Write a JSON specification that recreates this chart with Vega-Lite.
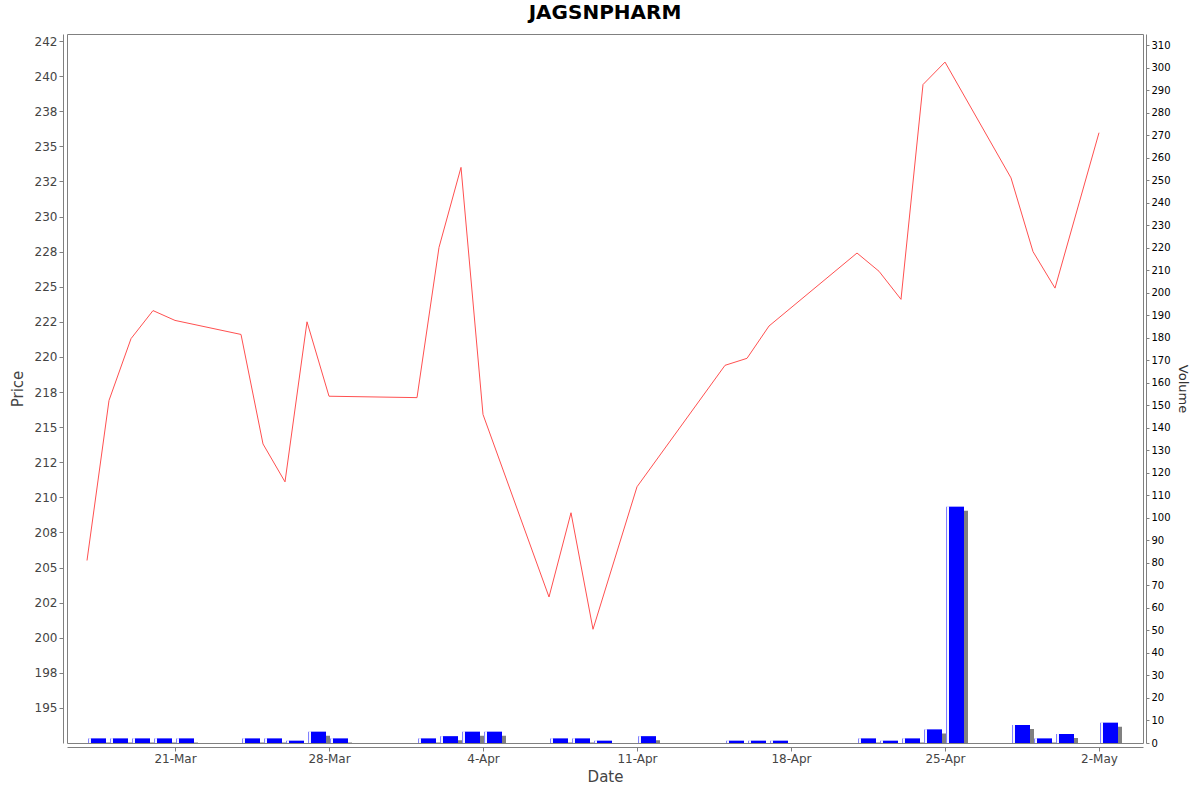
{
  "$schema": "https://vega.github.io/schema/vega-lite/v6.json",
  "autosize": "none",
  "width": 1076,
  "height": 709,
  "padding": {"left": 67, "top": 34, "right": 57, "bottom": 49},
  "background": "white",
  "title": {
    "text": "JAGSNPHARM",
    "fontSize": 20,
    "fontWeight": "bold",
    "color": "black",
    "anchor": "middle",
    "offset": 11
  },
  "data": {
    "values": [
      {"date": "2025-03-17", "price": 205.5, "volume": 2},
      {"date": "2025-03-18", "price": 216.9, "volume": 2},
      {"date": "2025-03-19", "price": 221.3, "volume": 2},
      {"date": "2025-03-20", "price": 223.3, "volume": 2},
      {"date": "2025-03-21", "price": 222.6, "volume": 2},
      {"date": "2025-03-24", "price": 221.6, "volume": 2},
      {"date": "2025-03-25", "price": 213.8, "volume": 2},
      {"date": "2025-03-26", "price": 211.1, "volume": 1},
      {"date": "2025-03-27", "price": 222.5, "volume": 5},
      {"date": "2025-03-28", "price": 217.2, "volume": 2},
      {"date": "2025-04-01", "price": 217.1, "volume": 2},
      {"date": "2025-04-02", "price": 227.8, "volume": 3},
      {"date": "2025-04-03", "price": 233.5, "volume": 5},
      {"date": "2025-04-04", "price": 215.9, "volume": 5},
      {"date": "2025-04-07", "price": 202.9, "volume": 2},
      {"date": "2025-04-08", "price": 208.9, "volume": 2},
      {"date": "2025-04-09", "price": 200.6, "volume": 1},
      {"date": "2025-04-11", "price": 210.75, "volume": 3},
      {"date": "2025-04-15", "price": 219.4, "volume": 1},
      {"date": "2025-04-16", "price": 219.9, "volume": 1},
      {"date": "2025-04-17", "price": 222.2, "volume": 1},
      {"date": "2025-04-21", "price": 227.4, "volume": 2},
      {"date": "2025-04-22", "price": 226.1, "volume": 1},
      {"date": "2025-04-23", "price": 224.1, "volume": 2},
      {"date": "2025-04-24", "price": 239.4, "volume": 6},
      {"date": "2025-04-25", "price": 241.0, "volume": 105},
      {"date": "2025-04-28", "price": 232.75, "volume": 8},
      {"date": "2025-04-29", "price": 227.5, "volume": 2},
      {"date": "2025-04-30", "price": 224.9, "volume": 4},
      {"date": "2025-05-02", "price": 235.97, "volume": 9}
    ]
  },
  "encoding": {
    "x": {
      "field": "date",
      "type": "temporal",
      "title": "Date",
      "scale": {
        "type": "utc",
        "padding": 0,
        "domain": [
          {"year": 2025, "month": 3, "date": 16, "hours": 2, "minutes": 10, "utc": true},
          {"year": 2025, "month": 5, "date": 4, "utc": true}
        ]
      },
      "axis": {
        "values": [
          {"year": 2025, "month": 3, "date": 21, "utc": true},
          {"year": 2025, "month": 3, "date": 28, "utc": true},
          {"year": 2025, "month": 4, "date": 4, "utc": true},
          {"year": 2025, "month": 4, "date": 11, "utc": true},
          {"year": 2025, "month": 4, "date": 18, "utc": true},
          {"year": 2025, "month": 4, "date": 25, "utc": true},
          {"year": 2025, "month": 5, "date": 2, "utc": true}
        ],
        "labelExpr": "utcFormat(datum.value, '%-d-%b')",
        "offset": 4,
        "grid": false,
        "labelFontSize": 12,
        "titleFontSize": 15,
        "titlePadding": 5
      }
    }
  },
  "layer": [
    {
      "encoding": {
        "y": {
          "field": "volume",
          "type": "quantitative",
          "title": "Volume",
          "scale": {"domain": [0, 315], "nice": false},
          "axis": {
            "orient": "right",
            "values": [0, 10, 20, 30, 40, 50, 60, 70, 80, 90, 100, 110, 120, 130, 140, 150, 160, 170, 180, 190, 200, 210, 220, 230, 240, 250, 260, 270, 280, 290, 300, 310],
            "offset": 3,
            "grid": false,
            "tickSize": 3,
            "labelFontSize": 10,
            "labelColor": "black",
            "titleFontSize": 13,
            "titleColor": "#333333",
            "titlePadding": 5
          }
        }
      },
      "layer": [
        {
          "mark": {"type": "bar", "width": 18, "xOffset": 14, "yOffset": 4, "color": "#808080", "clip": true}
        },
        {
          "mark": {"type": "bar", "width": 18, "xOffset": 10, "color": "#8080ff", "clip": true}
        },
        {
          "mark": {"type": "bar", "width": 2, "xOffset": 3, "color": "#f4f4ff", "clip": true}
        },
        {
          "mark": {"type": "bar", "width": 15, "xOffset": 11.5, "color": "#0000ff", "clip": true}
        }
      ]
    },
    {
      "mark": {"type": "line", "color": "#ff5050", "strokeWidth": 1, "clip": true},
      "encoding": {
        "y": {
          "field": "price",
          "type": "quantitative",
          "title": "Price",
          "scale": {"domain": [192.5, 243], "nice": false, "zero": false},
          "axis": {
            "orient": "left",
            "values": [195, 197.5, 200, 202.5, 205, 207.5, 210, 212.5, 215, 217.5, 220, 222.5, 225, 227.5, 230, 232.5, 235, 237.5, 240, 242.5],
            "labelExpr": "floor(datum.value) % 2 == 0 ? format(floor(datum.value), 'd') : format(ceil(datum.value), 'd')",
            "offset": 4,
            "grid": false,
            "labelFontSize": 12,
            "titleFontSize": 15,
            "titlePadding": 9
          }
        }
      }
    }
  ],
  "resolve": {"scale": {"y": "independent"}},
  "config": {
    "font": "DejaVu Sans",
    "view": {"stroke": "#808080", "strokeWidth": 1},
    "axis": {
      "domainColor": "#808080",
      "tickColor": "#808080",
      "tickSize": 4,
      "labelColor": "#444444",
      "titleColor": "#444444",
      "titleFontWeight": "normal",
      "labelPadding": 2
    }
  }
}
